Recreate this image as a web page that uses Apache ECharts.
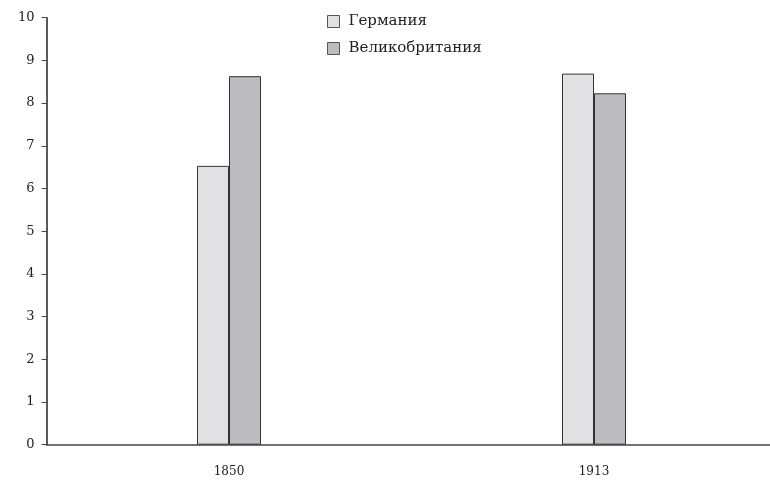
<!DOCTYPE html>
<html>
<head>
<meta charset="utf-8">
<script src="https://cdn.jsdelivr.net/npm/echarts@6/dist/echarts.min.js"></script>
<style>html,body{margin:0;padding:0;background:#fff}#c{width:770px;height:480px}</style>
</head>
<body>
<div id="c"></div>
<script>
const categories = ['1850', '1913'];
const germany = [6.53, 8.69];
const britain = [8.63, 8.23];
const seriesNames = ['Германия', 'Великобритания'];
const yTicks = [0, 1, 2, 3, 4, 5, 6, 7, 8, 9, 10];

const font = 'DejaVu Serif, Liberation Serif, serif';
const chart = echarts.init(document.getElementById('c'), null, {renderer: 'canvas'});
chart.setOption({
  animation: false,
  textStyle: {fontFamily: font},
  grid: {left: 46.5, top: 17.7, width: 730, height: 427, containLabel: false, outerBoundsMode: 'none'},
  legend: {
    orient: 'vertical', left: 322, top: 9,
    itemWidth: 12, itemHeight: 12, itemGap: 12,
    icon: 'rect',
    itemStyle: {borderWidth: 1, borderColor: '#555'},
    textStyle: {fontFamily: font, fontSize: 15, color: '#222', padding: [0, 0, 0, 4]},
    data: seriesNames
  },
  xAxis: {
    type: 'category', data: categories,
    axisLine: {lineStyle: {color: '#444', width: 1.5}},
    axisTick: {show: false},
    axisLabel: {color: '#222', fontSize: 12, fontFamily: font, margin: 21}
  },
  yAxis: {
    type: 'value', min: 0, max: 10, interval: 1,
    axisLine: {show: true, lineStyle: {color: '#222', width: 1.5}},
    axisTick: {show: true, length: 5, lineStyle: {color: '#444'}},
    splitLine: {show: false},
    axisLabel: {color: '#222', fontSize: 13, fontFamily: font, margin: 12,
      formatter: v => yTicks.includes(v) ? String(v) : ''}
  },
  series: [
    {name: seriesNames[0], type: 'bar', data: germany, barWidth: 32, barGap: '0%',
     itemStyle: {color: '#e1e1e3', borderColor: '#333', borderWidth: 1}},
    {name: seriesNames[1], type: 'bar', data: britain, barWidth: 32, barGap: '0%',
     itemStyle: {color: '#bcbcc0', borderColor: '#333', borderWidth: 1}}
  ]
});
</script>
</body>
</html>
